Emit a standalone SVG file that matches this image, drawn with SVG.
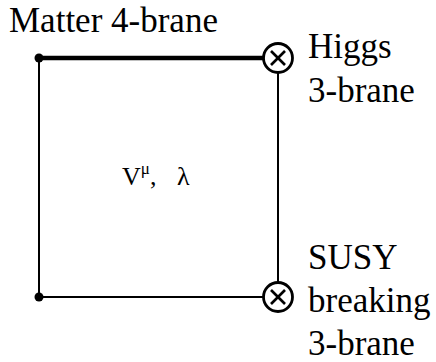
<svg xmlns="http://www.w3.org/2000/svg" width="436" height="362" viewBox="0 0 436 362">
<style>
text{font-family:'Liberation Serif','Times New Roman',serif;font-size:35px;fill:#000}
.l{stroke:#000;stroke-width:2;fill:none}
.thick{stroke:#000;stroke-width:4.5;fill:none}
.brane{stroke:#000;stroke-width:2.8;fill:#fff}
.x{stroke:#000;stroke-width:2.6;fill:none}
</style>
<rect width="436" height="362" fill="#fff"/>
<g id="connectors">
<line class="thick" x1="39" y1="58" x2="264" y2="58"/>
<line class="l" x1="39" y1="58" x2="39" y2="297"/>
<line class="l" x1="278" y1="72" x2="278" y2="283"/>
<line class="l" x1="39" y1="297" x2="264" y2="297"/>
</g>
<g id="matter-corner"><circle cx="39" cy="58" r="4.5"/></g>
<g id="bottom-corner"><circle cx="39" cy="297" r="4.5"/></g>
<g id="higgs">
<circle class="brane" cx="278" cy="58" r="14.5"/>
<line class="x" x1="271" y1="51" x2="285" y2="65"/><line class="x" x1="285" y1="51" x2="271" y2="65"/>
</g>
<g id="susy">
<circle class="brane" cx="278" cy="297" r="14.5"/>
<line class="x" x1="271" y1="290" x2="285" y2="304"/><line class="x" x1="285" y1="290" x2="271" y2="304"/>
</g>
<g id="labels">
<text x="9" y="31.5">Matter 4-brane</text>
<text x="308" y="58">Higgs</text>
<text x="308" y="102">3-brane</text>
<text x="308" y="269">SUSY</text>
<text x="308" y="312">breaking</text>
<text x="308" y="355">3-brane</text>
<text x="122" y="185" style="font-size:26px">V<tspan dy="-11" style="font-size:17px">μ</tspan><tspan dy="11">,</tspan><tspan x="177">λ</tspan></text>
</g>
</svg>
